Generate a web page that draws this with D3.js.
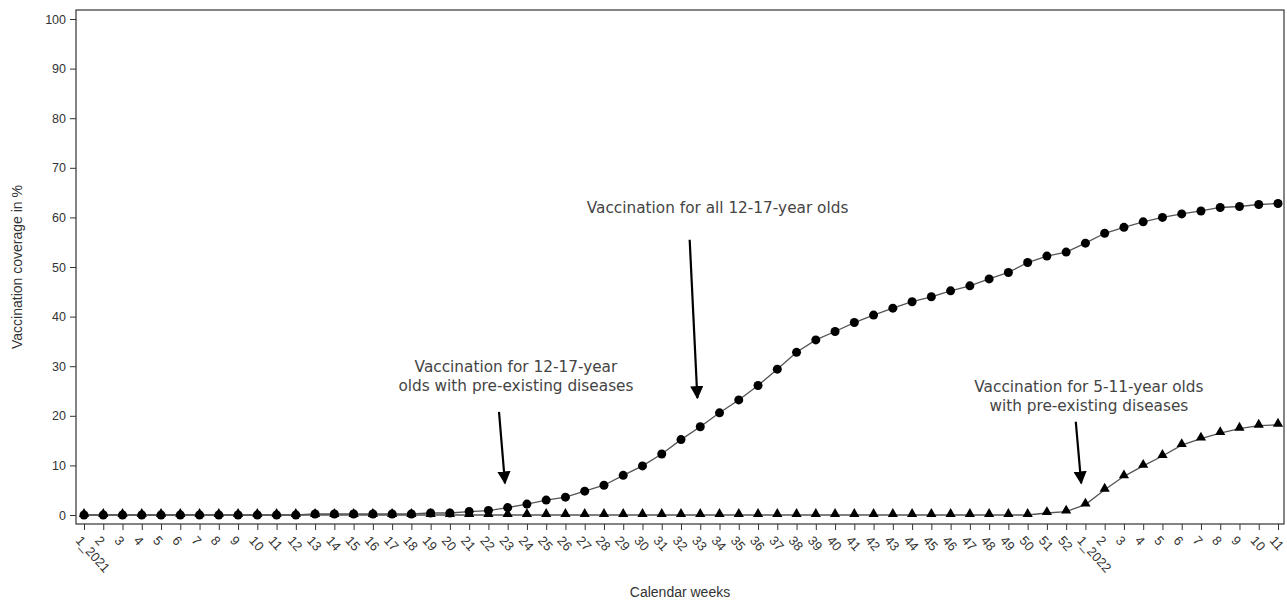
<!DOCTYPE html>
<html>
<head>
<meta charset="utf-8">
<script src="https://cdn.jsdelivr.net/npm/d3@7"></script>
<style>
  body { margin: 0; background: #fff; }
  svg { display: block; }
  .axis text { font-family: "Liberation Sans", Arial, sans-serif; font-size: 12.5px; fill: #333; }
  .axis path, .axis line { stroke: #333; }
  .title { font-family: "Liberation Sans", Arial, sans-serif; font-size: 14px; fill: #333; }
  .note { font-family: "DejaVu Sans", sans-serif; font-size: 15.3px; fill: #444; }
</style>
</head>
<body>
<svg width="1287" height="602"></svg>
<script>
var svg = d3.select("svg"),
    width = 1287,
    height = 602;

// calendar weeks, 2021 then 2022
var weeks = ["1_2021","2","3","4","5","6","7","8","9","10","11","12","13","14","15","16","17","18","19","20",
  "21","22","23","24","25","26","27","28","29","30","31","32","33","34","35","36","37","38","39","40",
  "41","42","43","44","45","46","47","48","49","50","51","52",
  "1_2022","2","3","4","5","6","7","8","9","10","11"];

// all 12-17-year olds (circles)
var teens = [0,0,0,0,0,0,0,0,0,0,0,0,0.2,0.2,0.2,0.2,0.2,0.2,0.4,0.4,
  0.7,0.9,1.5,2.2,3.0,3.6,4.8,6.0,8.0,9.9,12.3,15.2,17.8,20.6,23.2,26.1,29.4,32.8,35.3,37.0,
  38.8,40.3,41.7,43.0,44.0,45.2,46.2,47.6,48.9,50.9,52.2,53.0,
  54.8,56.8,58.0,59.1,60.0,60.7,61.3,62.0,62.2,62.6,62.8];

// 5-11-year olds with pre-existing diseases (triangles)
var kids = [0,0,0,0,0,0,0,0,0,0,0,0,0,0,0,0,0,0,0,0,
  0,0,0,0,0,0,0,0,0,0,0,0,0,0,0,0,0,0,0,0,
  0,0,0,0,0,0,0,0,0,0,0.4,0.7,
  2.1,5.1,7.8,9.9,11.9,14.1,15.4,16.5,17.4,18.0,18.2];

var yTicks = [0,10,20,30,40,50,60,70,80,90,100];

// annotations: position in (week index, %) and arrow start/end
var notes = [
  { lines: ["Vaccination for all 12-17-year olds"], week: 32.9, value: 60.9, from: [31.45, 55.5], to: [31.85, 23.6] },
  { lines: ["Vaccination for 12-17-year", "olds with pre-existing diseases"], week: 22.43, value: 28.9, from: [21.55, 20.8], to: [21.86, 6.4] },
  { lines: ["Vaccination for 5-11-year olds", "with pre-existing diseases"], week: 52.18, value: 24.7, from: [51.5, 18.8], to: [51.78, 6.4] }
];

var frame = { left: 76, right: 1284, top: 10, bottom: 524 };

var x = d3.scaleLinear().domain([0, weeks.length - 1]).range([84, 1278]);
var y = d3.scaleLinear().domain([0, 100]).range([515, 19]);

// frame
svg.append("rect")
  .attr("x", frame.left).attr("y", frame.top)
  .attr("width", frame.right - frame.left).attr("height", frame.bottom - frame.top)
  .attr("fill", "none").attr("stroke", "#333").attr("stroke-width", 1.2);

// y axis
var yAxis = svg.append("g").attr("class", "axis")
  .attr("transform", "translate(" + frame.left + ",0)")
  .call(d3.axisLeft(y).tickValues(yTicks).tickSize(6).tickPadding(4));
yAxis.select(".domain").remove();

// x axis
var xAxis = svg.append("g").attr("class", "axis")
  .attr("transform", "translate(0," + frame.bottom + ")")
  .call(d3.axisBottom(x).tickValues(d3.range(weeks.length)).tickFormat(function(i) { return weeks[i]; }).tickSize(6));
xAxis.select(".domain").remove();
xAxis.selectAll("text")
  .style("font-size", "13px")
  .attr("text-anchor", "start")
  .attr("y", 0)
  .attr("dy", "0.35em")
  .attr("transform", "translate(-6,14) rotate(48)");

// axis titles
svg.append("text").attr("class", "title")
  .attr("transform", "translate(22," + (frame.top + frame.bottom) / 2 + ") rotate(-90)")
  .attr("text-anchor", "middle")
  .text("Vaccination coverage in %");
svg.append("text").attr("class", "title")
  .attr("x", 680).attr("y", 597)
  .attr("text-anchor", "middle")
  .text("Calendar weeks");

// lines
var line = d3.line().x(function(d, i) { return x(i); }).y(function(d) { return y(d); });
[teens, kids].forEach(function(series) {
  svg.append("path").datum(series)
    .attr("d", line)
    .attr("fill", "none").attr("stroke", "#555").attr("stroke-width", 1.3);
});

// markers
svg.append("g").selectAll("path")
  .data(kids).enter().append("path")
  .attr("d", d3.symbol().type(d3.symbolTriangle).size(45))
  .attr("transform", function(d, i) { return "translate(" + x(i) + "," + (y(d) - 1) + ")"; })
  .attr("fill", "#000");
svg.append("g").selectAll("circle")
  .data(teens).enter().append("circle")
  .attr("cx", function(d, i) { return x(i); })
  .attr("cy", function(d) { return y(d); })
  .attr("r", 4.5)
  .attr("fill", "#000");

// annotations
svg.append("defs").append("marker")
  .attr("id", "head").attr("viewBox", "0 0 10 10")
  .attr("refX", 9).attr("refY", 5)
  .attr("markerWidth", 6).attr("markerHeight", 6)
  .attr("orient", "auto")
  .append("path").attr("d", "M0,0 L10,5 L0,10 z").attr("fill", "#000");

notes.forEach(function(n) {
  var t = svg.append("text").attr("class", "note")
    .attr("x", x(n.week)).attr("y", y(n.value))
    .attr("text-anchor", "middle");
  n.lines.forEach(function(l, k) {
    t.append("tspan").attr("x", x(n.week)).attr("dy", k ? 19 : 0).text(l);
  });
  svg.append("line")
    .attr("x1", x(n.from[0])).attr("y1", y(n.from[1]))
    .attr("x2", x(n.to[0])).attr("y2", y(n.to[1]))
    .attr("stroke", "#000").attr("stroke-width", 2.2)
    .attr("marker-end", "url(#head)");
});
</script>
</body>
</html>
